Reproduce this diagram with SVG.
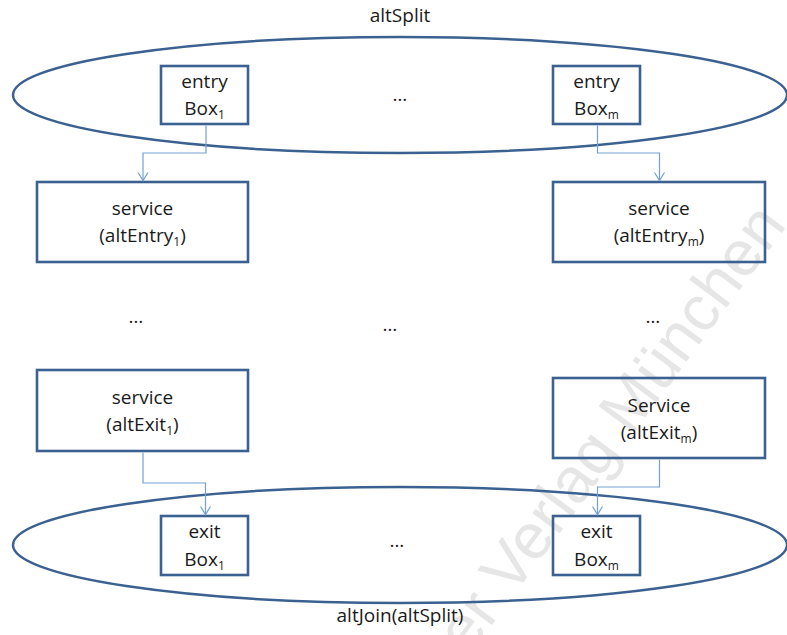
<svg xmlns="http://www.w3.org/2000/svg" width="787" height="635" viewBox="0 0 787 635">
<style>
  text { font-family: "Open Sans", "Liberation Sans", sans-serif; font-size: 19px; fill: #1a1a1a; text-anchor: middle; }
  .sub { font-size: 12px; }
  .grp { fill: none; stroke: #3b6190; stroke-width: 2.5; }
  .box { fill: none; stroke: #3b6190; stroke-width: 2.6; }
  .conn { fill: none; stroke: #74a0d6; stroke-width: 1.2; }
  .wm { font-family: "Liberation Sans", Arial, sans-serif; font-size: 64px; fill: #e6e6e6; text-anchor: start; }
</style>
<defs>
  <marker id="arr" viewBox="-10 -6 12 12" markerWidth="12" markerHeight="12" refX="0" refY="0" orient="auto" markerUnits="userSpaceOnUse">
    <path d="M-8,-5 L0,0 L-8,5" fill="none" stroke="#74a0d6" stroke-width="1.2"/>
  </marker>
</defs>
<rect width="787" height="635" fill="#ffffff"/>
<text class="wm" transform="translate(468,657) rotate(-53.5)">er Verlag München</text>

<g id="altSplit">
  <ellipse class="grp" cx="400" cy="95" rx="387" ry="58"/>
  <text x="400" y="22">altSplit</text>
  <text x="400" y="101">…</text>
</g>
<g id="altJoin">
  <ellipse class="grp" cx="400" cy="545" rx="387" ry="58"/>
  <text x="400" y="622">altJoin(altSplit)</text>
  <text x="397" y="547">…</text>
</g>

<g id="entryBox1">
  <rect class="box" x="161" y="66" width="87" height="58"/>
  <text x="204.5" y="88">entry</text>
  <text x="204.5" y="115">Box<tspan class="sub" dy="4">1</tspan></text>
</g>
<g id="entryBoxm">
  <rect class="box" x="553" y="66" width="87" height="58"/>
  <text x="596.5" y="88">entry</text>
  <text x="596.5" y="115">Box<tspan class="sub" dy="4">m</tspan></text>
</g>

<g id="serviceAltEntry1">
  <rect class="box" x="37" y="182" width="211" height="80"/>
  <text x="142.5" y="215">service</text>
  <text x="142.5" y="242">(altEntry<tspan class="sub" dy="4">1</tspan><tspan dy="-4">)</tspan></text>
</g>
<g id="serviceAltEntrym">
  <rect class="box" x="553" y="182" width="212" height="80"/>
  <text x="659" y="215">service</text>
  <text x="659" y="242">(altEntry<tspan class="sub" dy="4">m</tspan><tspan dy="-4">)</tspan></text>
</g>

<g id="dots">
  <text x="136" y="323">…</text>
  <text x="390" y="331">…</text>
  <text x="653" y="323">…</text>
</g>

<g id="serviceAltExit1">
  <rect class="box" x="37" y="370" width="211" height="81"/>
  <text x="142.5" y="404">service</text>
  <text x="142.5" y="431">(altExit<tspan class="sub" dy="4">1</tspan><tspan dy="-4">)</tspan></text>
</g>
<g id="serviceAltExitm">
  <rect class="box" x="553" y="378" width="212" height="80"/>
  <text x="659" y="412">Service</text>
  <text x="659" y="439">(altExit<tspan class="sub" dy="4">m</tspan><tspan dy="-4">)</tspan></text>
</g>

<g id="exitBox1">
  <rect class="box" x="161" y="516" width="87" height="59"/>
  <text x="204.5" y="538">exit</text>
  <text x="204.5" y="566">Box<tspan class="sub" dy="4">1</tspan></text>
</g>
<g id="exitBoxm">
  <rect class="box" x="553" y="516" width="87" height="59"/>
  <text x="596.5" y="538">exit</text>
  <text x="596.5" y="566">Box<tspan class="sub" dy="4">m</tspan></text>
</g>

<g id="connectors">
  <polyline class="conn" points="206,125.5 206,153 143,153 143,180.5" marker-end="url(#arr)"/>
  <polyline class="conn" points="597.5,125.5 597.5,153 659.5,153 659.5,180.5" marker-end="url(#arr)"/>
  <polyline class="conn" points="143,452.5 143,483 205.5,483 205.5,514.5" marker-end="url(#arr)"/>
  <polyline class="conn" points="659.5,459.5 659.5,487 597.5,487 597.5,514.5" marker-end="url(#arr)"/>
</g>
</svg>
